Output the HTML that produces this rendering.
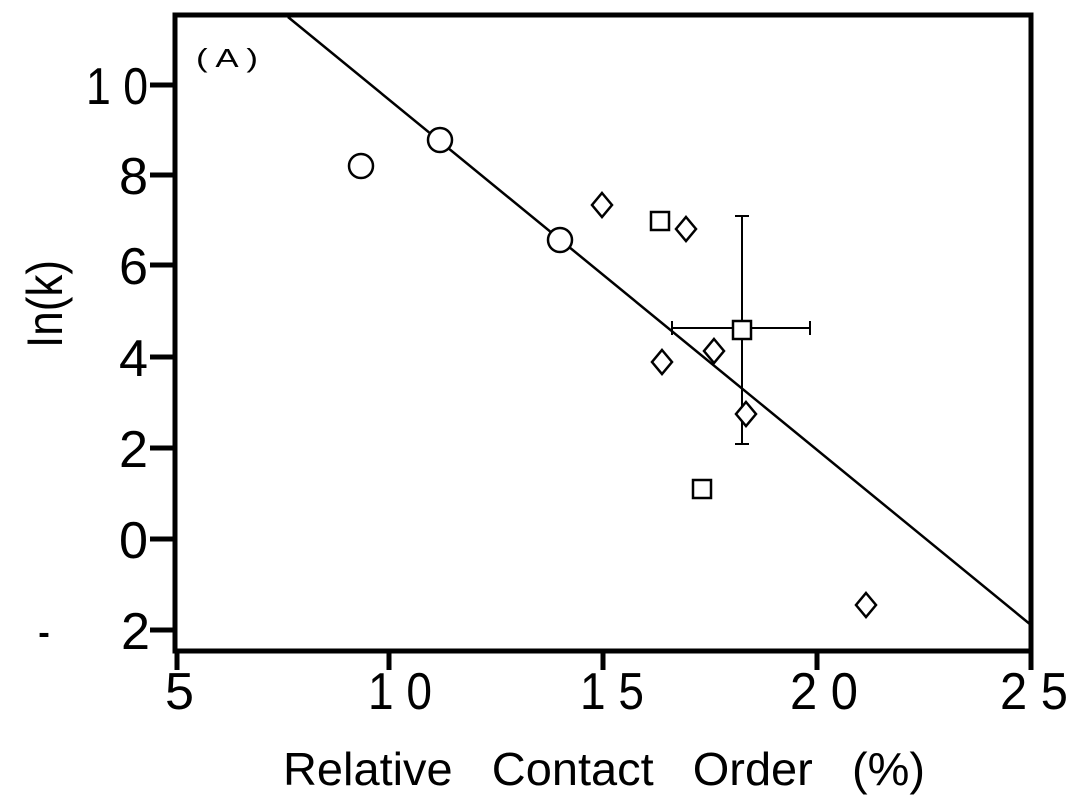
<!DOCTYPE html>
<html><head><style>
body{margin:0;background:#fff;}
svg text{font-family:"Liberation Sans","DejaVu Sans",sans-serif;fill:#000;}
</style></head><body>
<svg width="1080" height="802" viewBox="0 0 1080 802" xmlns="http://www.w3.org/2000/svg">
<rect x="175" y="15" width="856" height="636" fill="none" stroke="#000" stroke-width="5"/>
<g stroke="#000" stroke-width="5">
<line x1="150" y1="85" x2="175" y2="85"/><line x1="150" y1="175" x2="175" y2="175"/>
<line x1="150" y1="265" x2="175" y2="265"/><line x1="150" y1="357" x2="175" y2="357"/>
<line x1="150" y1="448" x2="175" y2="448"/><line x1="150" y1="539" x2="175" y2="539"/>
<line x1="150" y1="630" x2="175" y2="630"/>
<line x1="177" y1="651" x2="177" y2="670"/><line x1="389" y1="651" x2="389" y2="670"/>
<line x1="603" y1="651" x2="603" y2="670"/><line x1="817" y1="651" x2="817" y2="670"/>
<line x1="1031" y1="651" x2="1031" y2="670"/>
</g>
<g font-size="52">
<text x="86" y="104" textLength="62" lengthAdjust="spacingAndGlyphs">1 0</text>
<text x="119" y="194" textLength="29" lengthAdjust="spacingAndGlyphs">8</text>
<text x="119" y="284" textLength="29" lengthAdjust="spacingAndGlyphs">6</text>
<text x="119" y="376" textLength="29" lengthAdjust="spacingAndGlyphs">4</text>
<text x="119" y="467" textLength="29" lengthAdjust="spacingAndGlyphs">2</text>
<text x="119" y="558" textLength="29" lengthAdjust="spacingAndGlyphs">0</text>
<text x="38" y="649" textLength="12" lengthAdjust="spacingAndGlyphs">-</text>
<text x="121" y="649" textLength="29" lengthAdjust="spacingAndGlyphs">2</text>
<text x="165" y="709" textLength="29" lengthAdjust="spacingAndGlyphs">5</text>
<text x="368" y="709" textLength="64" lengthAdjust="spacingAndGlyphs">1 0</text>
<text x="580" y="709" textLength="64" lengthAdjust="spacingAndGlyphs">1 5</text>
<text x="790" y="709" textLength="68" lengthAdjust="spacingAndGlyphs">2 0</text>
<text x="1000" y="709" textLength="68" lengthAdjust="spacingAndGlyphs">2 5</text>
</g>
<text x="283" y="785" font-size="46" textLength="642" lengthAdjust="spacingAndGlyphs" xml:space="preserve">Relative   Contact   Order   (%)</text>
<text transform="translate(62,348) rotate(-90)" font-size="50" textLength="88" lengthAdjust="spacingAndGlyphs">In(k)</text>
<text x="196" y="67" font-size="26" textLength="62" lengthAdjust="spacingAndGlyphs">( A )</text>
<line x1="288" y1="17" x2="1031" y2="625" stroke="#000" stroke-width="2.5"/>
<g stroke="#000" stroke-width="2" fill="none">
<line x1="742" y1="216" x2="742" y2="444"/><line x1="735" y1="216" x2="749" y2="216"/><line x1="735" y1="444" x2="749" y2="444"/>
<line x1="672" y1="328" x2="810" y2="328"/><line x1="672" y1="321" x2="672" y2="335"/><line x1="810" y1="321" x2="810" y2="335"/>
</g>
<g stroke="#000" stroke-width="2.5" fill="#fff">
<circle cx="361" cy="166" r="12"/><circle cx="440" cy="140" r="12"/><circle cx="560" cy="240" r="12"/>
<rect x="651" y="212" width="18" height="18"/><rect x="693" y="480" width="18" height="18"/><rect x="733" y="321" width="18" height="18"/>
<polygon points="602,193 612,205 602,217 592,205"/>
<polygon points="686,217 696,229 686,241 676,229"/>
<polygon points="662,350 672,362 662,374 652,362"/>
<polygon points="714,339 724,351 714,363 704,351"/>
<polygon points="746,402 756,414 746,426 736,414"/>
<polygon points="866,593 876,605 866,617 856,605"/>
</g>
</svg>
</body></html>
